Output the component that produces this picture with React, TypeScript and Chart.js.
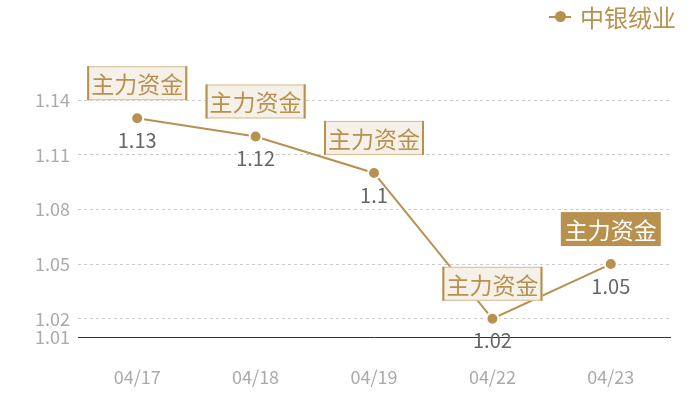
import { useEffect, useRef } from "react"
import { Chart, registerables } from "chart.js"
Chart.register(...registerables)

const CATEGORIES = ["04/17", "04/18", "04/19", "04/22", "04/23"]
const VALUES = [1.13, 1.12, 1.1, 1.02, 1.05]
const Y_TICKS = [1.01, 1.02, 1.05, 1.08, 1.11, 1.14]
const TAGS = ["主力资金", "主力资金", "主力资金", "主力资金", "主力资金"]
const HIGHLIGHT = [false, false, false, false, true]
const SERIES_NAME = "中银绒业"

const GOLD = "#b8914f"
const FONT = "'Noto Sans CJK SC', 'Noto Sans', sans-serif"

const tagPlugin = {
  id: "tags",
  afterDatasetsDraw(chart: Chart) {
    const ctx = chart.ctx
    const meta = chart.getDatasetMeta(0)
    ctx.save()
    meta.data.forEach((pt: any, i: number) => {
      const x = pt.x
      const y = pt.y
      // value under the point
      ctx.font = `20px ${FONT}`
      ctx.fillStyle = "#666"
      ctx.textAlign = "center"
      ctx.textBaseline = "middle"
      ctx.fillText(String(VALUES[i]), x, y + 22)

      // tag box above the point
      ctx.font = `23px ${FONT}`
      const w = ctx.measureText(TAGS[i]).width + 8
      const h = 34
      const bx = x - w / 2
      const by = y - 18 - h
      if (HIGHLIGHT[i]) {
        ctx.fillStyle = GOLD
        ctx.fillRect(bx, by, w, h)
        ctx.fillStyle = "#fff"
      } else {
        ctx.fillStyle = "#f5f0e8"
        ctx.fillRect(bx, by, w, h)
        ctx.strokeStyle = "#d6bd93"
        ctx.lineWidth = 1
        ctx.strokeRect(bx + 0.5, by + 0.5, w - 1, h - 1)
        ctx.fillStyle = GOLD
        ctx.fillRect(bx, by, 2, h)
        ctx.fillRect(bx + w - 2, by, 2, h)
      }
      ctx.fillText(TAGS[i], x, by + h / 2 + 1)
    })
    ctx.restore()
  },
}

function LineChart() {
  const ref = useRef<HTMLCanvasElement>(null)
  useEffect(() => {
    if (!ref.current) return
    const chart = new Chart(ref.current, {
      type: "line",
      data: {
        labels: CATEGORIES,
        datasets: [{
          label: SERIES_NAME,
          data: VALUES,
          borderColor: GOLD,
          borderWidth: 2,
          backgroundColor: GOLD,
          pointBackgroundColor: GOLD,
          pointBorderColor: "#fff",
          pointBorderWidth: 2,
          pointRadius: 6,
          tension: 0,
        }],
      },
      options: {
        animation: false,
        responsive: true,
        maintainAspectRatio: false,
        layout: { padding: { top: 100, right: 30, left: 0, bottom: 0 } },
        plugins: { legend: { display: false }, tooltip: { enabled: false } },
        scales: {
          x: {
            offset: true,
            grid: { display: false },
            border: { display: true, color: "#333", width: 1 },
            ticks: { color: "#aaa", font: { size: 18, family: FONT }, padding: 21 },
            afterFit: (s: any) => { s.height = 63 },
          },
          y: {
            min: 1.01,
            max: 1.14,
            border: { display: false, dash: [3, 3] },
            grid: {
              color: (c: any) => (c.tick && c.tick.value === 1.01 ? "rgba(0,0,0,0)" : "#ccc"),
              drawTicks: false,
            },
            ticks: {
              color: "#aaa",
              font: { size: 18, family: FONT },
              padding: 8,
              callback: (v: string | number) => String(v),
            },
            afterBuildTicks: (s: any) => { s.ticks = Y_TICKS.map(v => ({ value: v })) },
            afterFit: (s: any) => { s.width = 78 },
          },
        },
      },
      plugins: [tagPlugin],
    })
    return () => chart.destroy()
  }, [])
  return <canvas ref={ref} />
}

export default function App() {
  return (
    <div style={{ position: "fixed", left: 0, top: 0, width: 700, height: 400, background: "#fff", fontFamily: FONT }}>
      <div style={{ position: "absolute", left: 0, top: 0, width: 700, height: 400 }}>
        <LineChart />
      </div>
      <div style={{ position: "absolute", left: 549, top: 3, display: "flex", alignItems: "center", height: 28 }}>
        <span style={{ position: "relative", width: 22, height: 2, background: GOLD, display: "inline-block" }}>
          <span style={{ position: "absolute", left: 6, top: -5, width: 11, height: 11, borderRadius: "50%", background: GOLD }} />
        </span>
        <span style={{ marginLeft: 9, fontSize: 24, color: GOLD, lineHeight: "28px" }}>{SERIES_NAME}</span>
      </div>
    </div>
  )
}
